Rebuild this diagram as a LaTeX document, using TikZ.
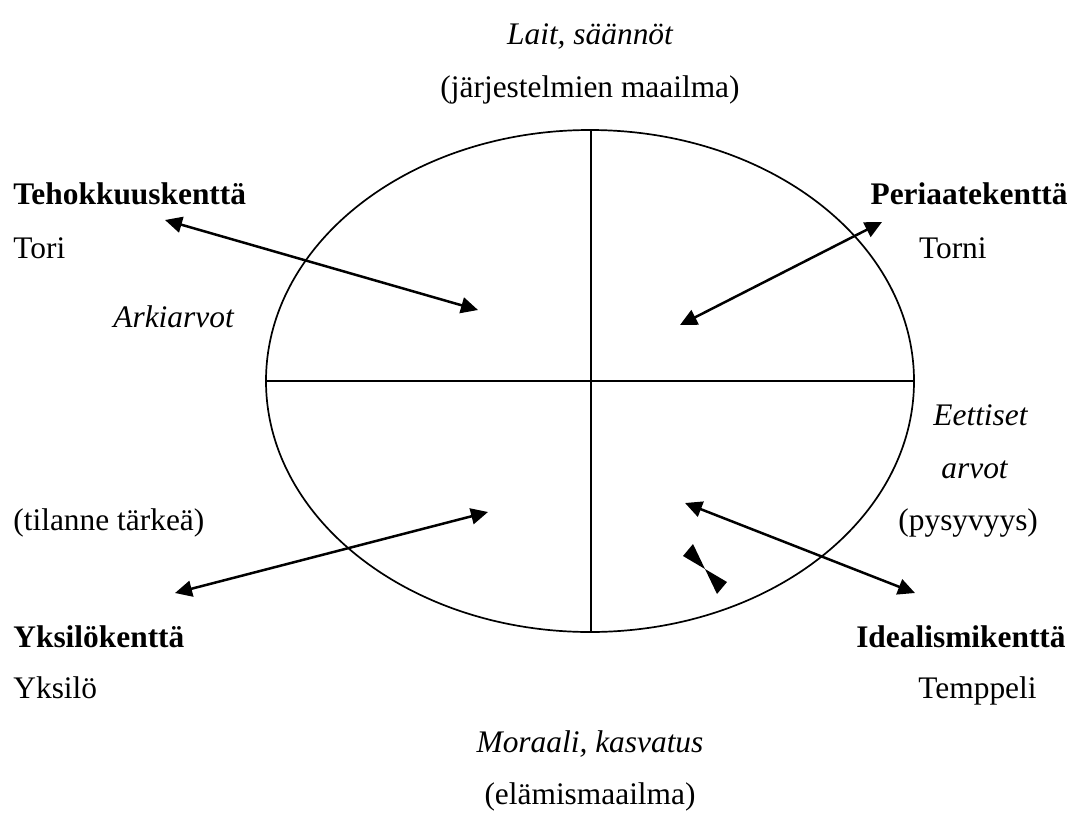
\documentclass[tikz,border=0pt]{standalone}
\usepackage{fontspec}
\setmainfont{Liberation Serif}
\usepackage{xcolor}
\usetikzlibrary{arrows.meta}

\begin{document}
\begin{tikzpicture}[
	x=0.5pt, y=-0.5pt,
	every node/.style={inner sep=0pt, font=\fontsize{15.7}{19}\selectfont},
	field/.style={font=\fontsize{15.7}{19}\selectfont\bfseries},
	values/.style={font=\fontsize{15.7}{19}\selectfont\itshape},
	frame/.style={line width=0.85pt},
	link/.style={
		line width=1.25pt,
		{Triangle[length=8.5pt,width=8pt]}-{Triangle[length=8.5pt,width=8pt]}
	}
	]
	\useasboundingbox (0,0) rectangle (1070,814);

	% the ellipse and its four fields
	\draw[frame] (590,381) ellipse [x radius=324, y radius=251];
	\coordinate (west) at (266,381);
	\coordinate (east) at (914,381);
	\coordinate (top) at (591,130);
	\coordinate (bottom) at (591,632);
	\draw[frame] (west) -- (east);
	\draw[frame] (top) -- (bottom);

	% texts round the ellipse
	\node[values, anchor=base] (lait) at (590,44) {Lait, säännöt};
	\node[anchor=base] (jarj) at (590,97) {(järjestelmien maailma)};
	\node[field, anchor=base west] (teho) at (13,204) {Tehokkuuskenttä};
	\node[anchor=base west] (tori) at (13,258) {Tori};
	\node[field, anchor=base east] (peri) at (1068,204) {Periaatekenttä};
	\node[anchor=base east] (torni) at (987,258) {Torni};
	\node[values, anchor=base west] (arki) at (113,327) {Arkiarvot};
	\node[values, anchor=base west] (eett) at (933,425) {Eettiset};
	\node[values, anchor=base west] (arvot) at (941,478) {arvot};
	\node[anchor=base west] (tilanne) at (13,530) {(tilanne tärkeä)};
	\node[anchor=base west] (pysy) at (898,530) {(pysyvyys)};
	\node[field, anchor=base west] (yksk) at (13,647) {Yksilökenttä};
	\node[anchor=base west] (yksilo) at (13,698) {Yksilö};
	\node[field, anchor=base east] (ideal) at (1066,647) {Idealismikenttä};
	\node[anchor=base west] (temp) at (918,698) {Temppeli};
	\node[values, anchor=base] (moraali) at (590,752) {Moraali, kasvatus};
	\node[anchor=base] (elamis) at (590,804) {(elämismaailma)};

	% arrows
	\coordinate (teho out) at (165,220);
	\coordinate (teho in) at (478,310);
	\coordinate (peri out) at (882,222);
	\coordinate (peri in) at (680,325);
	\coordinate (yks out) at (175,593);
	\coordinate (yks in) at (488,512);
	\coordinate (ideal out) at (915,593);
	\coordinate (ideal in) at (685,503);
	\draw[link] (teho out) -- (teho in);
	\draw[link] (peri out) -- (peri in);
	\draw[link] (yks out) -- (yks in);
	\draw[link] (ideal out) -- (ideal in);

	% stray arrow heads
	\coordinate (bow) at (705,569);
	\fill (bow) -- ++(-22,-13) -- ++(10,-12) -- cycle;
	\fill (bow) -- ++(22,13) -- ++(-10,12) -- cycle;
\end{tikzpicture}
\end{document}
